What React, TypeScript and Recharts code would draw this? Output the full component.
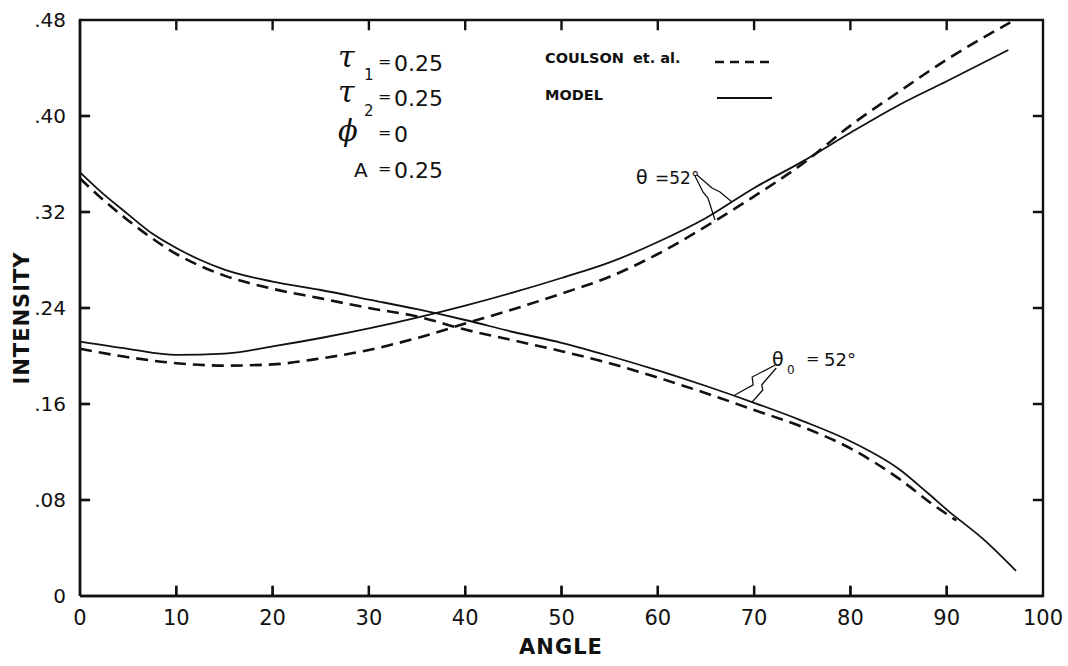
import React from 'react';
import { LineChart, Line, XAxis, YAxis } from 'recharts';

// angle (deg) and intensity
const modelRiseX = [0, 5, 10, 15, 20, 25, 30, 35, 40, 45, 50, 55, 60, 65, 70, 75, 80, 85, 90, 96.4];
const modelRiseY = [0.212, 0.206, 0.201, 0.202, 0.208, 0.215, 0.223, 0.232, 0.242, 0.253, 0.265, 0.278, 0.295, 0.315, 0.34, 0.362, 0.386, 0.409, 0.429, 0.455];

const coulsonRiseX = [0, 5, 10, 15, 20, 25, 30, 35, 40, 45, 50, 55, 60, 65, 70, 75, 80, 85, 90, 96.6];
const coulsonRiseY = [0.206, 0.199, 0.194, 0.192, 0.193, 0.198, 0.205, 0.215, 0.227, 0.239, 0.252, 0.266, 0.285, 0.308, 0.333, 0.36, 0.392, 0.42, 0.447, 0.478];

const modelFallX = [0, 2, 5, 7.5, 10, 12.5, 15, 20, 25, 30, 35, 40, 45, 50, 55, 60, 65, 70, 75, 80, 85, 88, 90, 94, 97.2];
const modelFallY = [0.353, 0.338, 0.318, 0.302, 0.29, 0.28, 0.272, 0.262, 0.255, 0.247, 0.239, 0.23, 0.22, 0.211, 0.2, 0.188, 0.175, 0.161, 0.146, 0.129, 0.106, 0.086, 0.072, 0.046, 0.021];

const coulsonFallX = [0, 2, 5, 7.5, 10, 12.5, 15, 20, 25, 30, 35, 40, 45, 50, 55, 60, 65, 70, 75, 80, 85, 88.6, 91];
const coulsonFallY = [0.348, 0.333, 0.313, 0.298, 0.285, 0.275, 0.267, 0.256, 0.248, 0.24, 0.233, 0.222, 0.213, 0.204, 0.194, 0.182, 0.169, 0.155, 0.141, 0.123, 0.098, 0.076, 0.063];

// leader lines of the two theta notes
const leadUpA_X = [64.07, 65.63, 66.46, 67.7];
const leadUpA_Y = [0.3508, 0.34, 0.3367, 0.3283];
const leadUpB_X = [63.86, 64.69, 65.21, 65.94];
const leadUpB_Y = [0.35, 0.3367, 0.3317, 0.3133];
const leadLoA_X = [72.2, 69.8, 69.9, 68.0];
const leadLoA_Y = [0.1925, 0.1825, 0.176, 0.1675];
const leadLoB_X = [72.3, 70.8, 70.9, 69.8];
const leadLoB_Y = [0.19, 0.176, 0.1717, 0.1617];

const xTicks = [0, 10, 20, 30, 40, 50, 60, 70, 80, 90, 100];
const yTicks = [0, 0.08, 0.16, 0.24, 0.32, 0.4, 0.48];

const pts = (xs: number[], ys: number[]) => xs.map((x, i) => ({ x, y: ys[i] }));

const yFmt = (v: number) => (v === 0 ? '0' : '.' + Math.round(v * 100).toString().padStart(2, '0'));

const font = 'DejaVu Sans';
const ink = '#111';

// inward tick length in data units (about 10px)
const TX = 0.0085;
const TY = 1.05;

const inner = (t: number[]) => t.slice(1, -1);

// whole frame as one path: round the box, in and back out at every tick
const frame = [
  { x: 0, y: 0 },
  ...inner(xTicks).flatMap((x) => [{ x, y: 0 }, { x, y: TX }, { x, y: 0 }]),
  { x: 100, y: 0 },
  ...inner(yTicks).flatMap((y) => [{ x: 100, y }, { x: 100 - TY, y }, { x: 100, y }]),
  { x: 100, y: 0.48 },
  ...inner(xTicks).reverse().flatMap((x) => [{ x, y: 0.48 }, { x, y: 0.48 - TX }, { x, y: 0.48 }]),
  { x: 0, y: 0.48 },
  ...inner(yTicks).reverse().flatMap((y) => [{ x: 0, y }, { x: TY, y }, { x: 0, y }]),
  { x: 0, y: 0 },
];

// plot box of the chart below (margins + axis sizes), used for the bottom/left tick backup
const BOX = { left: 80, top: 20, w: 963, h: 576 };
const sx = (v: number) => BOX.left + (v / 100) * BOX.w;
const sy = (v: number) => BOX.top + BOX.h - (v / 0.48) * BOX.h;

export default function App() {
  const tickStyle = { fill: ink, fontSize: 21, fontFamily: font };
  const axisLine = { stroke: ink, strokeWidth: 2.5 };
  const leaders = [
    pts(leadUpA_X, leadUpA_Y),
    pts(leadUpB_X, leadUpB_Y),
    pts(leadLoA_X, leadLoA_Y),
    pts(leadLoB_X, leadLoB_Y),
  ];

  return (
    <div style={{ position: 'absolute', left: 0, top: 0, width: 1068, height: 666, background: '#fff' }}>
      <LineChart width={1068} height={666} margin={{ top: 20, right: 25, bottom: 30, left: 0 }}>
        <XAxis xAxisId="b" dataKey="x" type="number" domain={[0, 100]} ticks={xTicks} height={40}
          tickLine={false} tickMargin={8} axisLine={axisLine} tick={tickStyle} />
        <YAxis yAxisId="l" type="number" domain={[0, 0.48]} ticks={yTicks} width={80}
          tickLine={false} tickMargin={8} tickFormatter={yFmt} axisLine={axisLine} tick={{ ...tickStyle, fontSize: 20 }} />

        <Line xAxisId="b" yAxisId="l" data={frame} dataKey="y" type="linear"
          stroke={ink} strokeWidth={2.4} dot={false} isAnimationActive={false} />

        <Line xAxisId="b" yAxisId="l" data={pts(modelRiseX, modelRiseY)} dataKey="y" type="monotone"
          stroke={ink} strokeWidth={1.8} dot={false} isAnimationActive={false} />
        <Line xAxisId="b" yAxisId="l" data={pts(modelFallX, modelFallY)} dataKey="y" type="monotone"
          stroke={ink} strokeWidth={1.8} dot={false} isAnimationActive={false} />
        <Line xAxisId="b" yAxisId="l" data={pts(coulsonRiseX, coulsonRiseY)} dataKey="y" type="monotone"
          stroke={ink} strokeWidth={2.6} strokeDasharray="12 7" dot={false} isAnimationActive={false} />
        <Line xAxisId="b" yAxisId="l" data={pts(coulsonFallX, coulsonFallY)} dataKey="y" type="monotone"
          stroke={ink} strokeWidth={2.6} strokeDasharray="12 7" dot={false} isAnimationActive={false} />

        {leaders.map((d, i) => (
          <Line key={i} xAxisId="b" yAxisId="l" data={d} dataKey="y" type="linear"
            stroke={ink} strokeWidth={1.3} dot={false} isAnimationActive={false} />
        ))}
      </LineChart>

      <svg width={1068} height={666} style={{ position: 'absolute', left: 0, top: 0, pointerEvents: 'none' }}>
        <g stroke={ink} strokeWidth={2.2}>
          {inner(xTicks).map((x) => (
            <line key={'bx' + x} x1={sx(x)} x2={sx(x)} y1={sy(0)} y2={sy(TX)} />
          ))}
          {inner(yTicks).map((y) => (
            <line key={'ly' + y} x1={sx(0)} x2={sx(TY)} y1={sy(y)} y2={sy(y)} />
          ))}
        </g>
        <g fill={ink} fontFamily={font}>
          <text x={22} y={318} fontSize={21} fontWeight="bold" textAnchor="middle" dominantBaseline="central"
            transform="rotate(-90 22 318)" letterSpacing={1}>INTENSITY</text>
          <text x={561} y={654} fontSize={21} fontWeight="bold" textAnchor="middle" letterSpacing={1}>ANGLE</text>

          {/* parameters */}
          <text x={338} y={67} fontSize={30} fontStyle="italic" fontFamily="DejaVu Serif">τ</text>
          <text x={364} y={80} fontSize={15}>1</text>
          <text x={378} y={67} fontSize={16}>=</text>
          <text x={394} y={71} fontSize={22}>0.25</text>

          <text x={338} y={102} fontSize={30} fontStyle="italic" fontFamily="DejaVu Serif">τ</text>
          <text x={364} y={116} fontSize={15}>2</text>
          <text x={378} y={102} fontSize={16}>=</text>
          <text x={394} y={106} fontSize={22}>0.25</text>

          <text x={338} y={141} fontSize={29} fontStyle="italic" fontFamily="DejaVu Serif">ϕ</text>
          <text x={378} y={138} fontSize={16}>=</text>
          <text x={394} y={142} fontSize={22}>0</text>

          <text x={354} y={177} fontSize={20}>A</text>
          <text x={378} y={174} fontSize={16}>=</text>
          <text x={394} y={178} fontSize={22}>0.25</text>

          {/* legend */}
          <text x={545} y={63} fontSize={14.5} fontWeight="bold">COULSON</text>
          <text x={633} y={63} fontSize={14.5} fontWeight="bold">et. al.</text>
          <line x1={715} y1={62} x2={772} y2={62} stroke={ink} strokeWidth={2.4} strokeDasharray="9 6" />
          <text x={545} y={100} fontSize={14.5} fontWeight="bold">MODEL</text>
          <line x1={717} y1={98} x2={772} y2={98} stroke={ink} strokeWidth={2} />

          {/* theta notes */}
          <text x={636} y={184} fontSize={19}>θ</text>
          <text x={655} y={184} fontSize={17}>=52°</text>
          <text x={772} y={366} fontSize={19}>θ</text>
          <text x={787} y={374} fontSize={12}>0</text>
          <text x={806} y={364} fontSize={16}>=</text>
          <text x={824} y={366} fontSize={18}>52°</text>
        </g>
      </svg>
    </div>
  );
}
